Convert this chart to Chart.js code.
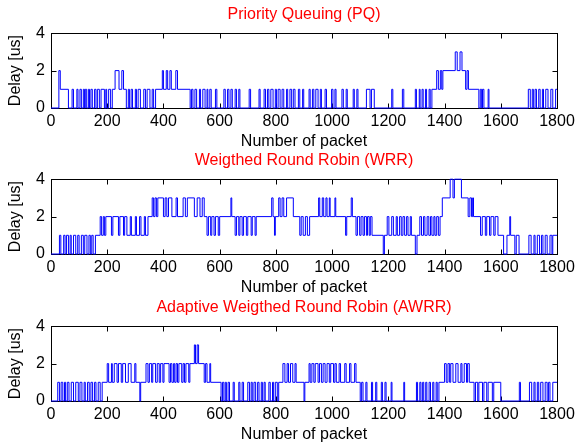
<!DOCTYPE html>
<html>
<head>
<meta charset="utf-8">
<script src="https://cdn.jsdelivr.net/npm/chart.js@4.4.0/dist/chart.umd.min.js"></script>
<style>
  body { margin: 0; background: #fff; }
  #wrap { position: relative; width: 581px; height: 447px; }
  canvas { position: absolute; left: 0; }
</style>
</head>
<body>
<div id="wrap">
  <canvas id="c0" width="581" height="150" style="top:0px"></canvas>
  <canvas id="c1" width="581" height="150" style="top:146px"></canvas>
  <canvas id="c2" width="581" height="150" style="top:293px"></canvas>
</div>
<script>
// chart titles
var titles = ["Priority Queuing (PQ)", "Weigthed Round Robin (WRR)", "Adaptive Weigthed Round Robin (AWRR)"];
var xTicks = [0, 200, 400, 600, 800, 1000, 1200, 1400, 1600, 1800];
var yTicks = [0, 2, 4];

// delay steps: [packet where level starts, delay in us]
var pqSteps = [
  [0,0],[28,2],[33,1],[62,0],
  [75,1],[80,0],[92,1],[96,0],[103,1],[108,0],[115,1],[119,0],[122,1],[127,0],[133,1],[137,0],[142,1],[147,0],[155,1],[160,0],[165,1],[172,0],[178,1],[190,0],[195,1],[198,0],[205,1],[212,0],
  [218,1],[228,2],[242,1],[252,2],[258,1],[268,0],
  [275,1],[279,0],[285,1],[290,0],[300,1],[304,0],[310,1],[318,0],[330,1],[336,0],[342,1],[352,0],[360,1],[365,0],
  [372,1],[396,2],[400,1],[410,2],[415,1],[423,2],[428,1],[444,2],[450,1],[495,0],
  [500,1],[505,0],[512,1],[518,0],[528,1],[532,0],[540,1],[548,0],[555,1],[558,0],[565,1],[570,0],[585,1],[590,0],[615,1],[620,0],[628,1],[633,0],[640,1],[645,0],[655,1],[660,0],[668,1],[672,0],
  [705,1],[710,0],[740,1],[744,0],[758,1],[763,0],[770,1],[775,0],[782,1],[790,0],[798,1],[802,0],[808,1],[815,0],[822,1],[828,0],[838,1],[842,0],[850,1],[856,0],[862,1],[868,0],[880,1],[885,0],[895,1],[899,0],
  [918,1],[922,0],[930,1],[935,0],[942,1],[950,0],[958,1],[962,0],[975,1],[980,0],[998,1],[1003,0],[1010,1],[1014,0],[1035,1],[1040,0],[1050,1],[1054,0],[1075,1],[1079,0],[1088,1],[1092,0],
  [1122,1],[1135,0],[1140,1],[1150,0],[1212,1],[1216,0],[1250,1],[1255,0],
  [1296,1],[1300,0],[1310,1],[1313,0],[1320,1],[1324,0],[1332,1],[1336,0],[1345,1],[1349,0],[1355,1],
  [1372,2],[1378,1],[1385,2],[1390,1],[1394,2],[1438,3],[1445,2],[1455,3],[1462,2],[1475,1],[1480,2],[1485,1],
  [1522,0],[1527,1],[1532,0],[1535,1],[1540,0],[1555,1],[1558,0],
  [1698,1],[1705,0],[1712,1],[1716,0],[1722,1],[1727,0],[1735,1],[1740,0],[1748,1],[1752,0],[1760,1],[1768,0],[1778,1],[1785,0],[1795,1]
];

var wrrSteps = [
  [0,0],[30,1],[35,0],[45,1],[50,0],[55,1],[62,0],[68,1],[72,0],[80,1],[88,0],[95,1],[100,0],[108,1],[115,0],[120,1],[128,0],[135,1],[140,0],[145,1],[150,0],[158,1],
  [175,2],[180,1],[186,2],[190,1],[195,2],[215,1],[220,2],[240,1],[245,2],[258,1],[262,2],[270,1],[282,2],[286,1],[300,2],[304,1],[315,2],[320,1],[332,2],[336,1],[345,2],
  [360,3],[365,2],[370,3],[375,2],[380,3],[400,2],[406,3],[412,2],[418,3],[430,2],[445,3],[450,2],[470,3],[478,2],[485,3],[510,2],[520,3],[530,2],[538,3],[545,2],
  [555,1],[560,2],[568,1],[572,2],[580,1],[585,2],[595,1],[600,2],[640,3],[643,2],[655,1],[660,2],[668,1],[672,2],[680,1],[685,2],[695,1],[700,2],[712,1],[716,2],[726,1],[730,2],
  [785,3],[790,2],[795,1],[798,2],[810,3],[815,2],[822,3],[828,2],[838,3],[862,2],[885,1],[890,2],[897,1],[905,2],[912,1],[920,2],
  [952,3],[956,2],[965,3],[970,2],[978,3],[982,2],[990,3],[993,2],[1010,3],[1013,2],[1048,1],[1052,2],[1068,3],[1072,2],
  [1085,1],[1090,2],[1098,1],[1103,2],[1110,1],[1115,2],[1122,1],[1126,2],[1132,1],[1136,2],[1142,1],[1182,0],[1186,1],
  [1196,2],[1202,1],[1212,2],[1218,1],[1228,2],[1232,1],[1240,2],[1246,1],[1252,2],[1258,1],[1265,2],[1270,1],[1278,2],[1282,1],[1296,0],[1302,1],
  [1312,2],[1318,1],[1325,2],[1330,1],[1338,2],[1344,1],[1350,2],[1355,1],[1362,2],[1366,1],[1372,2],[1378,1],[1384,2],
  [1392,3],[1420,4],[1430,3],[1435,4],[1460,3],[1484,2],[1490,3],[1496,2],[1500,3],[1503,2],
  [1528,1],[1534,2],[1545,1],[1550,2],[1560,1],[1565,2],[1575,1],[1580,2],[1590,1],[1610,0],[1622,1],[1632,2],[1635,1],[1650,0],[1655,1],[1665,0],
  [1700,1],[1708,0],[1718,1],[1722,0],[1730,1],[1738,0],[1745,1],[1750,0],[1758,1],[1765,0],[1775,1],[1782,0],[1785,1]
];

var awrrSteps = [
  [0,0],[24,1],[30,0],[36,1],[42,0],[48,1],[52,0],[58,1],[64,0],[72,1],[80,0],[88,1],[97,0],[103,1],[110,0],[118,1],[122,0],[130,1],[136,0],[142,1],[148,0],[155,1],[160,0],[168,1],[175,0],
  [182,1],[200,2],[205,1],[215,2],[218,1],[225,2],[235,1],[240,2],[250,1],[255,2],[265,1],[275,2],[285,1],[298,2],[302,1],
  [316,0],[319,1],[338,2],[345,1],[350,2],[358,1],[362,2],[372,1],[378,2],[385,1],[390,2],[398,1],[402,2],[420,1],[425,2],[430,1],[436,2],[440,1],[445,2],[450,1],[455,2],[465,1],[470,2],[475,1],[480,2],[490,1],[494,2],
  [510,3],[514,2],[520,3],[525,2],[545,1],[550,2],[555,1],[565,2],[568,1],
  [605,0],[610,1],[615,0],[620,1],[624,0],[630,1],[635,0],[648,1],[652,0],[668,1],[672,0],[680,1],[685,0],[700,1],[706,0],[712,1],[716,0],[722,1],[728,0],[735,1],[740,0],[748,1],[752,0],[758,1],[762,0],[775,1],[780,0],[788,1],[792,0],[798,1],[805,0],[810,1],
  [825,2],[832,1],[840,2],[845,1],[852,2],[860,1],[868,2],[872,1],
  [900,0],[903,1],[918,2],[922,1],[928,2],[935,1],[940,2],[950,1],[955,2],[962,1],[968,2],[975,1],[982,2],[990,1],[995,2],[1005,1],[1010,2],[1015,1],[1025,2],[1030,1],[1045,2],[1050,1],[1062,2],[1067,1],[1080,2],[1085,1],
  [1100,0],[1105,1],[1110,0],[1120,1],[1124,0],[1140,1],[1144,0],[1155,1],[1159,0],[1175,1],[1179,0],[1188,1],[1192,0],[1210,1],[1213,0],[1255,1],[1258,0],[1300,1],[1304,0],[1312,1],[1316,0],[1322,1],[1326,0],[1333,1],[1337,0],[1345,1],[1350,0],[1358,1],[1362,0],[1370,1],[1374,0],[1380,1],
  [1400,2],[1406,1],[1412,2],[1418,1],[1422,2],[1430,1],[1440,2],[1448,1],[1458,2],[1462,1],[1470,2],[1478,1],[1482,2],[1488,1],
  [1505,0],[1510,1],[1518,0],[1522,1],[1535,0],[1540,1],[1550,0],[1555,1],[1570,0],[1575,1],[1600,0],[1666,1],[1670,0],
  [1702,1],[1710,0],[1718,1],[1722,0],[1730,1],[1735,0],[1742,1],[1750,0],[1758,1],[1765,0],[1770,1],[1775,0],[1785,1]
];

var seriesSteps = [pqSteps, wrrSteps, awrrSteps];

Chart.defaults.font.family = "'Liberation Sans', Arial, sans-serif";
Chart.defaults.color = "#000";

// MATLAB style box with inward ticks on all four sides
var boxTicks = {
  id: "boxTicks",
  beforeDatasetsDraw: function (chart) {
    var ctx = chart.ctx;
    var a = chart.chartArea;
    var x = chart.scales.x;
    var y = chart.scales.y;
    var L = Math.round(a.left) + 0.5, R = Math.round(a.right) + 0.5;
    var T = Math.round(a.top) + 0.5, B = Math.round(a.bottom) + 0.5;
    ctx.save();
    ctx.strokeStyle = "#000";
    ctx.lineWidth = 1;
    ctx.strokeRect(L, T, R - L, B - T);
    ctx.beginPath();
    x.ticks.forEach(function (t) {
      var px = Math.round(x.getPixelForValue(t.value)) + 0.5;
      ctx.moveTo(px, B); ctx.lineTo(px, B - 5);
      ctx.moveTo(px, T); ctx.lineTo(px, T + 5);
    });
    y.ticks.forEach(function (t) {
      var py = Math.round(y.getPixelForValue(t.value)) + 0.5;
      ctx.moveTo(L, py); ctx.lineTo(L + 5, py);
      ctx.moveTo(R, py); ctx.lineTo(R - 5, py);
    });
    ctx.stroke();
    ctx.restore();
  }
};

function plainNumber(v) {
  return String(v);
}

function makeChart(id, title, steps) {
  var points = steps.map(function (s) { return { x: s[0], y: s[1] }; });
  points.push({ x: 1800, y: steps[steps.length - 1][1] });
  new Chart(document.getElementById(id), {
    type: "line",
    data: {
      datasets: [{
        data: points,
        borderColor: "#0000ff",
        borderWidth: 1,
        pointRadius: 0,
        stepped: true,
        clip: 2
      }]
    },
    options: {
      responsive: false,
      animation: false,
      devicePixelRatio: 1,
      layout: { padding: { left: 0, right: 24, top: 0, bottom: 0 } },
      plugins: {
        legend: { display: false },
        tooltip: { enabled: false },
        title: {
          display: true,
          text: title,
          color: "#ff0000",
          fullSize: false,
          font: { size: 16, weight: "normal" },
          padding: { top: 5, bottom: 9 }
        }
      },
      scales: {
        x: {
          type: "linear",
          min: 0,
          max: 1800,
          afterBuildTicks: function (s) { s.ticks = xTicks.map(function (v) { return { value: v }; }); },
          afterFit: function (s) { s.height = 42; },
          grid: { display: false, drawTicks: false },
          border: { display: false },
          ticks: { font: { size: 16 }, padding: 4, maxRotation: 0, autoSkip: false, callback: plainNumber },
          title: { display: true, text: "Number of packet", font: { size: 16 }, padding: { top: 0, bottom: -1 } }
        },
        y: {
          min: 0,
          max: 4,
          afterBuildTicks: function (s) { s.ticks = yTicks.map(function (v) { return { value: v }; }); },
          afterFit: function (s) { s.width = 51; },
          grid: { display: false, drawTicks: false },
          border: { display: false },
          ticks: { font: { size: 16 }, padding: 6, callback: plainNumber },
          title: { display: true, text: "Delay [us]", font: { size: 16 }, padding: { top: 6, bottom: 0 } }
        }
      }
    },
    plugins: [boxTicks]
  });
}

for (var i = 0; i < 3; i++) {
  makeChart("c" + i, titles[i], seriesSteps[i]);
}
</script>
</body>
</html>
